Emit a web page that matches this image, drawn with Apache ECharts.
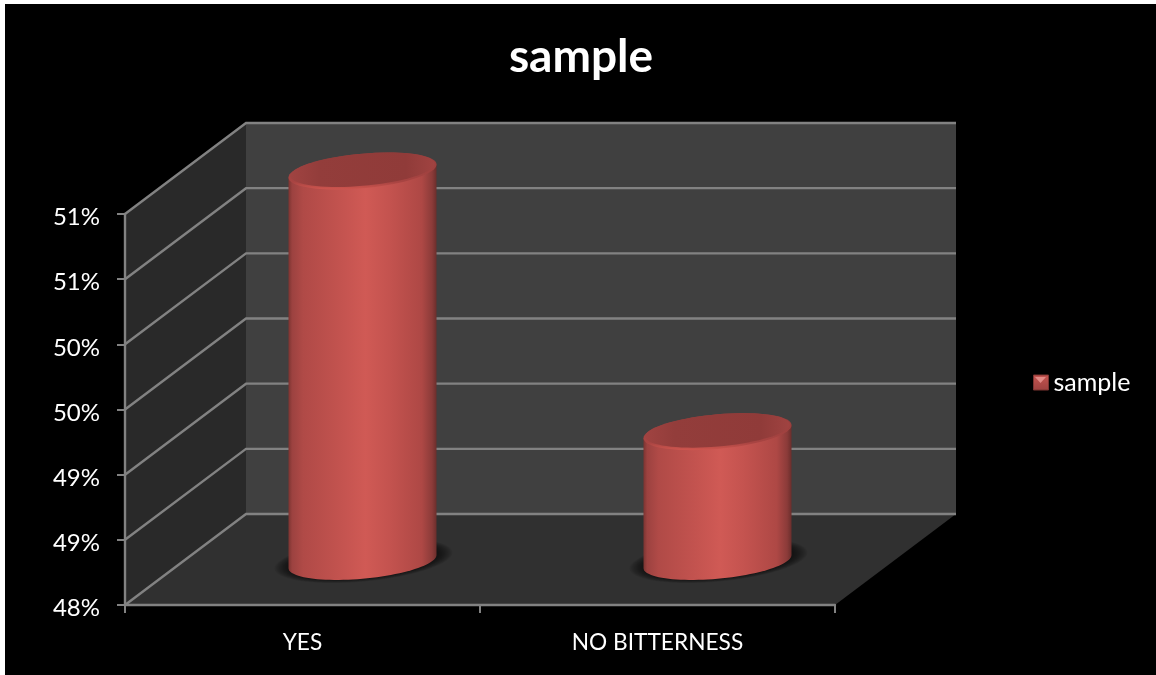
<!DOCTYPE html>
<html><head><meta charset="utf-8">
<style>html,body{margin:0;padding:0;background:#fff}#c{width:1156px;height:675px}</style>
<script src="https://cdn.jsdelivr.net/npm/echarts@6/dist/echarts.min.js"></script>
</head><body><div id="c"></div>
<script>
const categories = ['YES', 'NO BITTERNESS'];
const seriesName = 'sample';
const values = [51, 49];
const yTicks = [48, 48.5, 49, 49.5, 50, 50.5, 51];

const DEPTH_X = 121, DEPTH_Y = -91;   // receding direction of the 3D box
const FONT = 'Lato, "Noto Sans", sans-serif';
const GRID = '#828282';

function ellipsePts(cx, cy, from, to, n, k) {
  const pts = [];
  for (let i = 0; i <= n; i++) {
    const t = from + (to - from) * i / n;
    pts.push([cx + k.a * Math.cos(t), cy + k.b * Math.cos(t) + k.c * Math.sin(t)]);
  }
  return pts;
}
function scale(k, s, v) { return {a: k.a * s, b: k.b * v, c: k.c * v}; }
const hGrad = stops => ({type: 'linear', x: 0, y: 0, x2: 1, y2: 0,
  colorStops: stops.map(s => ({offset: s[0], color: s[1]}))});
const vGrad = stops => ({type: 'linear', x: 0, y: 0, x2: 0, y2: 1,
  colorStops: stops.map(s => ({offset: s[0], color: s[1]}))});

const bodyFill = hGrad([[0,'#7c3431'],[0.025,'#9c4240'],[0.1,'#b04a47'],[0.35,'#c3534f'],[0.52,'#d05a55'],
  [0.68,'#c4534f'],[0.9,'#ae4845'],[0.97,'#8b3b39'],[1,'#6b2e2c']]);

function renderWalls(params) {
  const r = params.coordSys, x0 = r.x, x1 = r.x + r.width, yT = r.y, yB = r.y + r.height;
  const dx = DEPTH_X, dy = DEPTH_Y;
  const poly = (points, fill) => ({type: 'polygon', shape: {points}, style: {fill}, silent: true});
  return {type: 'group', children: [
    poly([[x0 + dx, yT + dy], [x1 + dx, yT + dy], [x1 + dx, yB + dy], [x0 + dx, yB + dy]], '#404040'),
    poly([[x0, yT], [x0 + dx, yT + dy], [x0 + dx, yB + dy], [x0, yB]], '#292929'),
    poly([[x0, yB], [x0 + dx, yB + dy], [x1 + dx, yB + dy], [x1, yB]], '#303030')
  ]};
}
function renderGrid(params, api) {
  const r = params.coordSys, x0 = r.x, x1 = r.x + r.width;
  const y = api.coord([0, api.value(1)])[1];
  return {type: 'polyline', silent: true,
    shape: {points: [[x0, y], [x0 + DEPTH_X, y + DEPTH_Y], [x1 + DEPTH_X, y + DEPTH_Y]]},
    style: {stroke: GRID, lineWidth: 2.4, fill: 'none'}};
}
function renderBar(params, api) {
  const top = api.coord([api.value(0), api.value(1)]);
  const base = api.coord([api.value(0), yTicks[0]]);
  const band = api.size([1, 0])[0];
  const a = band * 0.2085;
  const k = {a, b: -a * 0.088, c: a * 0.234};
  const cx = top[0] + DEPTH_X / 2 - 0.5;
  const off = DEPTH_Y * 0.473;
  const yTop = top[1] + off, yBase = base[1] + off - 0.5;
  const body = ellipsePts(cx, yBase, 0, Math.PI, 48, k);
  body.unshift([cx + k.a, yTop + k.b]);
  body.push([cx - k.a, yTop - k.b]);
  const halo = [];
  for (let i = 10; i >= 1; i--) {
    const f = i / 10;
    halo.push({type: 'polygon', silent: true,
      shape: {points: ellipsePts(cx + 1, yBase - 1, 0, Math.PI * 2, 72, scale(k, 1 + 0.2 * f, 1 + 0.22 * f))},
      style: {fill: 'rgba(0,0,0,0.07)'}});
  }
  return {type: 'group', children: halo.concat([
    {type: 'polygon', shape: {points: body}, style: {fill: bodyFill}},
    {type: 'polygon', silent: true, shape: {points: ellipsePts(cx, yTop, 0, Math.PI * 2, 72, k)},
      style: {fill: vGrad([[0,'#933d3b'],[0.8,'#a84442'],[1,'#cf564f']])}},
    {type: 'polygon', silent: true, shape: {points: ellipsePts(cx, yTop - 1.2, 0, Math.PI * 2, 72, scale(k, 0.975, 0.93))},
      style: {fill: hGrad([[0,'#a04341'],[0.2,'#933d3b'],[0.8,'#903b39'],[1,'#a04341']])}}
  ])};
}

const chart = echarts.init(document.getElementById('c'), null, {renderer: 'canvas'});
chart.setOption({
  animation: false,
  backgroundColor: '#fff',
  graphic: [
    {type: 'rect', z: -10, silent: true, shape: {x: 5, y: 4, width: 1151, height: 671}, style: {fill: '#000'}},
    {type: 'polygon', z: 20, silent: true, shape: {points: [[1035, 377], [1046, 377], [1040.5, 383]]}, style: {fill: '#e28a86'}}
  ],
  title: {text: seriesName, left: 576, top: 29, textAlign: 'center',
    textStyle: {color: '#fff', fontFamily: FONT, fontWeight: 'bold', fontSize: 46}},
  legend: {data: [seriesName], left: 1028, top: 365, itemWidth: 15, itemHeight: 15, itemGap: 5,
    icon: 'rect', selectedMode: false,
    itemStyle: {color: vGrad([[0,'#c65450'],[1,'#9e4240']]), borderColor: '#7c3431', borderWidth: 1},
    textStyle: {color: '#fff', fontFamily: FONT, fontSize: 25}},
  grid: {left: 125, right: 321, top: 214, bottom: 70},
  xAxis: {type: 'category', data: categories, z: 3,
    axisLine: {lineStyle: {color: GRID, width: 2.4}},
    axisTick: {show: true, alignWithLabel: false, length: 8, lineStyle: {color: GRID, width: 2}},
    axisLabel: {color: '#fff', fontFamily: FONT, fontSize: 22.7, margin: 26},
    splitLine: {show: false}},
  yAxis: {type: 'value', min: 48, max: 51, interval: 0.5, z: 3,
    axisLine: {show: true, lineStyle: {color: GRID, width: 2.4}},
    axisTick: {show: true, length: 8, lineStyle: {color: GRID, width: 2}},
    axisLabel: {color: '#fff', fontFamily: FONT, fontSize: 24, margin: 25, verticalAlign: 'top', lineHeight: 7,
      formatter: v => Math.round(v) + '%'},
    splitLine: {show: false}},
  series: [
    {type: 'custom', name: 'walls', z: 1, silent: true, renderItem: renderWalls, data: [[0, yTicks[0]]], tooltip: {show: false}},
    {type: 'custom', name: 'gridlines', z: 2, silent: true, renderItem: renderGrid, data: yTicks.map(t => [0, t])},
    {type: 'custom', name: seriesName, z: 5, renderItem: renderBar,
      itemStyle: {color: '#c3534f'}, data: values.map((v, i) => [i, v])}
  ]
});
</script></body></html>
